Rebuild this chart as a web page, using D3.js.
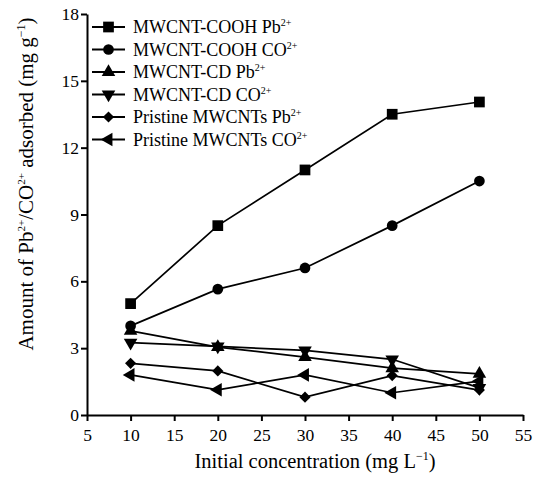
<!DOCTYPE html>
<html>
<head>
<meta charset="utf-8">
<script src="https://cdn.jsdelivr.net/npm/d3@7"></script>
<style>
  html, body { margin: 0; padding: 0; background: #fff; }
  svg { display: block; }
  text { font-family: "Liberation Serif", "Times New Roman", serif; fill: #000; }
</style>
</head>
<body>
<svg id="chart" width="536" height="477"></svg>
<script>
// Initial concentrations (mg L^-1)
const concentrations = [10, 20, 30, 40, 50];

// Adsorbed amounts (mg g^-1) per adsorbent / ion
const cnCoohPb = [5.0, 8.5, 11.0, 13.5, 14.05];
const cnCoohCo = [4.0, 5.65, 6.6, 8.5, 10.5];
const cnCdPb   = [3.78, 3.05, 2.6, 2.1, 1.85];
const cnCdCo   = [3.25, 3.08, 2.9, 2.5, 1.22];
const pristPb  = [2.32, 1.98, 0.8, 1.77, 1.12];
const pristCo  = [1.8, 1.13, 1.8, 1.0, 1.52];

const seriesNames = [
  ["MWCNT-COOH ", "Pb", "2+"],
  ["MWCNT-COOH ", "CO", "2+"],
  ["MWCNT-CD ", "Pb", "2+"],
  ["MWCNT-CD ", "CO", "2+"],
  ["Pristine MWCNTs ", "Pb", "2+"],
  ["Pristine MWCNTs ", "CO", "2+"]
];
const seriesValues = [cnCoohPb, cnCoohCo, cnCdPb, cnCdCo, pristPb, pristCo];

const xTicks = [5, 10, 15, 20, 25, 30, 35, 40, 45, 50, 55];
const yTicks = [0, 3, 6, 9, 12, 15, 18];

// marker shapes: square, circle, triangle up, triangle down, diamond, triangle left
const markerDefs = [
  { type: d3.symbolSquare, size: 115, rot: 0 },
  { type: d3.symbolCircle, size: 90, rot: 0 },
  { type: d3.symbolTriangle, size: 80, rot: 0 },
  { type: d3.symbolTriangle, size: 80, rot: 180 },
  { type: d3.symbolSquare, size: 62, rot: 45 },
  { type: d3.symbolTriangle, size: 80, rot: -90 }
];

const svg = d3.select("#chart");
const plotLeft = 87, plotRight = 523, plotTop = 14, plotBottom = 415;

const x = d3.scaleLinear().domain([5, 55]).range([plotLeft, plotRight]);
const y = d3.scaleLinear().domain([0, 18]).range([plotBottom, plotTop]);

// axes
const xAxis = svg.append("g")
  .attr("transform", `translate(0,${plotBottom})`)
  .call(d3.axisBottom(x).tickValues(xTicks).tickSize(6).tickPadding(5).tickSizeOuter(0));
const yAxis = svg.append("g")
  .attr("transform", `translate(${plotLeft},0)`)
  .call(d3.axisLeft(y).tickValues(yTicks).tickSize(6).tickPadding(2).tickSizeOuter(0));

[xAxis, yAxis].forEach(g => {
  g.select(".domain").attr("stroke", "#000").attr("stroke-width", 2);
  g.selectAll(".tick line").attr("stroke", "#000").attr("stroke-width", 2);
  g.selectAll(".tick text")
    .attr("font-family", "Liberation Serif, Times New Roman, serif")
    .attr("font-size", 17.5).attr("fill", "#000");
});
xAxis.selectAll(".tick text").attr("dy", "0.85em");

// series lines and markers
const line = d3.line().x((d, i) => x(concentrations[i])).y(d => y(d));

seriesValues.forEach((vals, s) => {
  svg.append("path")
    .attr("d", line(vals))
    .attr("fill", "none")
    .attr("stroke", "#000")
    .attr("stroke-width", 1.7);
});

function marker(g, s, cx, cy) {
  const m = markerDefs[s];
  g.append("path")
    .attr("d", d3.symbol().type(m.type).size(m.size)())
    .attr("transform", `translate(${cx},${cy}) rotate(${m.rot})`)
    .attr("fill", "#000");
}

seriesValues.forEach((vals, s) => {
  vals.forEach((v, i) => marker(svg, s, x(concentrations[i]), y(v)));
});

// legend
const legend = svg.append("g");
seriesNames.forEach((nm, s) => {
  const ly = 27 + s * 22.5;
  legend.append("line")
    .attr("x1", 92).attr("x2", 125).attr("y1", ly).attr("y2", ly)
    .attr("stroke", "#000").attr("stroke-width", 2);
  marker(legend, s, 108.5, ly);
  const t = legend.append("text")
    .attr("x", 133).attr("y", ly + 6)
    .attr("font-size", 18);
  t.append("tspan").text(nm[0] + nm[1]);
  t.append("tspan").attr("font-size", 10).attr("dy", -7).text(nm[2]);
});

// x axis title
const xt = svg.append("text")
  .attr("x", 315).attr("y", 468)
  .attr("text-anchor", "middle")
  .attr("font-size", 20.5);
xt.append("tspan").text("Initial concentration (mg L");
xt.append("tspan").attr("font-size", 12).attr("dy", -8).text("\u22121");
xt.append("tspan").attr("dy", 8).text(")");

// y axis title
const yt = svg.append("text")
  .attr("transform", "translate(33,184) rotate(-90)")
  .attr("text-anchor", "middle")
  .attr("font-size", 21);
yt.append("tspan").text("Amount of Pb");
yt.append("tspan").attr("font-size", 11).attr("dy", -8).text("2+");
yt.append("tspan").attr("dy", 8).text("/CO");
yt.append("tspan").attr("font-size", 11).attr("dy", -8).text("2+");
yt.append("tspan").attr("dy", 8).text(" adsorbed (mg g");
yt.append("tspan").attr("font-size", 12).attr("dy", -8).text("\u22121");
yt.append("tspan").attr("dy", 8).text(")");
</script>
</body>
</html>
